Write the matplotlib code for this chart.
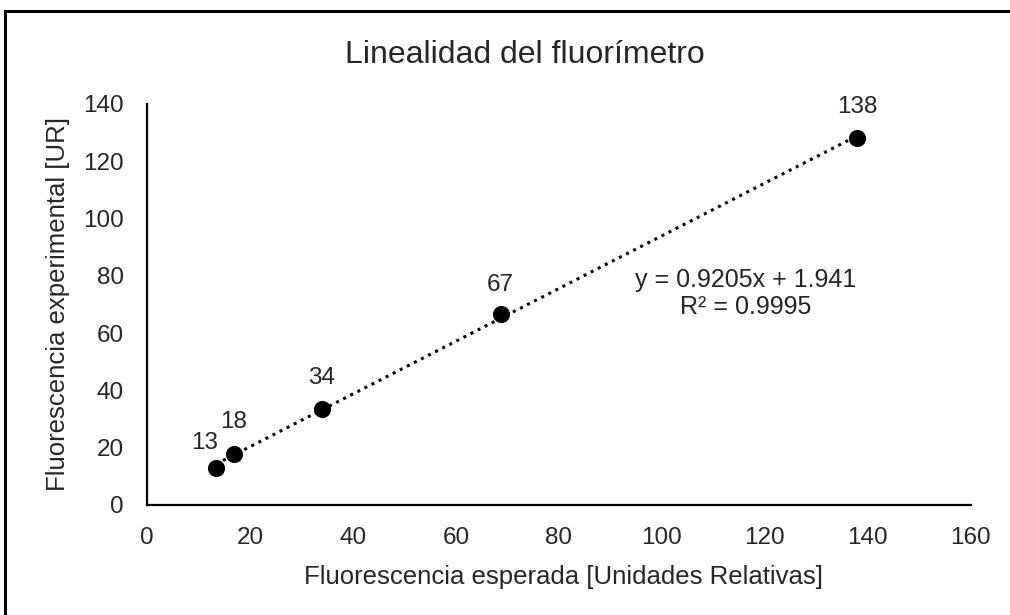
import numpy as np
import matplotlib.pyplot as plt
from matplotlib.patches import Rectangle

plt.rcParams['font.family'] = ['Liberation Sans', 'DejaVu Sans']

# datos
esperada = [13.4, 16.9, 34.0, 68.7, 137.9]
experimental = [12.9, 17.8, 33.5, 66.7, 128.1]
etiquetas = ['13', '18', '34', '67', '138']
# desplazamiento de las etiquetas (puntos, hasta la línea base)
desplaz = [(-8, 13.7), (0, 18.5), (0, 18), (0, 16.5), (0, 18)]

pendiente = 0.9205
ordenada = 1.941
r2 = 0.9995

fig = plt.figure(figsize=(10.1, 6.15), dpi=100)
ax = fig.add_axes([0.1455, 0.1789, 0.8158, 0.652])

# línea de tendencia
xt = np.array([min(esperada), max(esperada)])
ax.plot(xt, pendiente * xt + ordenada, color='black', linestyle=(0, (1, 1.6)),
        linewidth=2.2, zorder=2)
ax.plot(esperada, experimental, 'o', color='black', markersize=11.3, zorder=3)

for x, y, t, d in zip(esperada, experimental, etiquetas, desplaz):
    ax.annotate(t, (x, y), xytext=d, textcoords='offset points',
                ha='center', va='baseline', fontsize=17.5, color='#262626')

ax.text(116.3, 76.1, f'y = {pendiente}x + {ordenada}', ha='center',
        va='baseline', fontsize=18, color='#262626')
ax.text(116.3, 66.7, f'R² = {r2}', ha='center', va='baseline',
        fontsize=18, color='#262626')

ax.set_xlim(0, 160)
ax.set_ylim(0, 140)
ax.set_xticks(range(0, 161, 20))
ax.set_yticks(range(0, 141, 20))
ax.tick_params(length=0, labelsize=17.5, labelcolor='#262626')
ax.tick_params(axis='x', pad=15.5)
ax.tick_params(axis='y', pad=16.5)
for s in ['top', 'right']:
    ax.spines[s].set_visible(False)
for s in ['left', 'bottom']:
    ax.spines[s].set_linewidth(1.6)
    ax.spines[s].set_color('black')

ax.set_xlabel('Fluorescencia esperada [Unidades Relativas]', fontsize=18.5,
              color='#262626')
ax.set_ylabel('Fluorescencia experimental [UR]', fontsize=18.5,
              color='#262626')
ax.xaxis.set_label_coords(0.505, -0.15)
ax.yaxis.set_label_coords(-0.093, 0.5)
fig.text(0.3416, 0.8976, 'Linealidad del fluorímetro', ha='left', va='baseline',
         fontsize=23, color='#262626')

# marco exterior
fig.patches.append(Rectangle((0.005, -0.1), 1.1, 1.082, transform=fig.transFigure,
                             fill=False, edgecolor='black', linewidth=2.2))

fig.savefig('out.png', dpi=100)
